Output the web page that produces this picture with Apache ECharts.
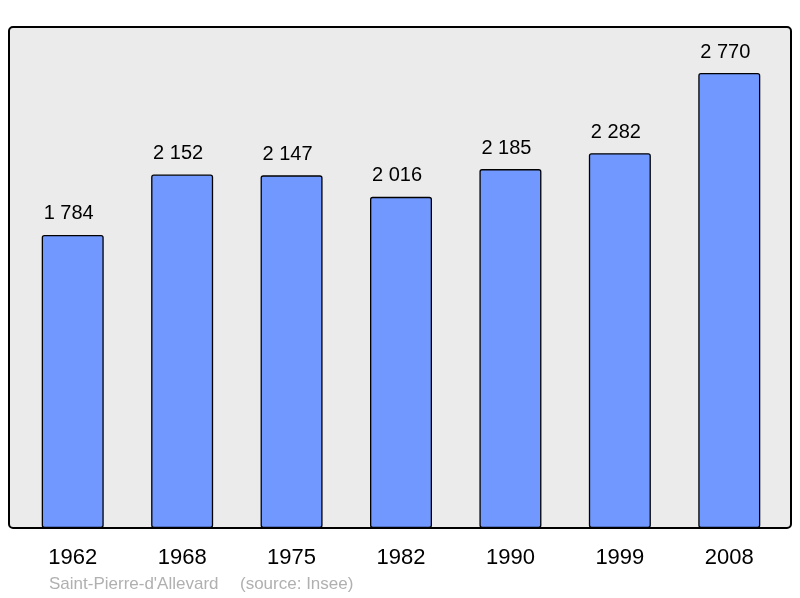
<!DOCTYPE html>
<html>
<head>
<meta charset="utf-8">
<script src="https://cdn.jsdelivr.net/npm/echarts@6/dist/echarts.min.js"></script>
<style>
  html, body { margin: 0; padding: 0; background: #fff; }
  #chart { width: 800px; height: 598px; }
</style>
</head>
<body>
<div id="chart"></div>
<script>
const years = ['1962', '1968', '1975', '1982', '1990', '1999', '2008'];
const population = [1784, 2152, 2147, 2016, 2185, 2282, 2770];
const townName = "Saint-Pierre-d'Allevard";
const sourceNote = '(source: Insee)';

// "2 770" style numbers
const fmt = (v) => String(v).replace(/\B(?=(\d{3})+(?!\d))/g, ' ');

const chart = echarts.init(document.getElementById('chart'));
chart.setOption({
  animation: false,
  textStyle: { fontFamily: 'Liberation Sans, Arial, sans-serif' },
  graphic: [
    {
      type: 'rect',
      z: -1,
      shape: { x: 9, y: 27, width: 782, height: 501, r: 4 },
      style: { fill: '#ebebeb', stroke: '#000', lineWidth: 2 }
    },
    {
      type: 'text',
      left: 49,
      top: 576,
      style: { text: townName, fill: '#b0b0b0', font: '17px Liberation Sans, Arial, sans-serif' }
    },
    {
      type: 'text',
      left: 240,
      top: 576,
      style: { text: sourceNote, fill: '#b0b0b0', font: '17px Liberation Sans, Arial, sans-serif' }
    }
  ],
  grid: { left: 18, right: 16, top: 27, bottom: 70 },
  xAxis: {
    type: 'category',
    data: years,
    axisLine: { show: false },
    axisTick: { show: false },
    axisLabel: { color: '#000', fontSize: 22, margin: 19 }
  },
  yAxis: {
    type: 'value',
    min: 0,
    max: 3050,
    show: false,
    splitLine: { show: false }
  },
  series: [{
    type: 'bar',
    data: population,
    barWidth: 62,
    itemStyle: {
      color: '#7098ff',
      borderColor: '#000',
      borderWidth: 1.3,
      borderRadius: 2
    },
    label: {
      show: true,
      position: 'top',
      distance: 11,
      offset: [-4, 0],
      color: '#000',
      fontSize: 20,
      formatter: (p) => fmt(p.value)
    }
  }]
});
</script>
</body>
</html>
